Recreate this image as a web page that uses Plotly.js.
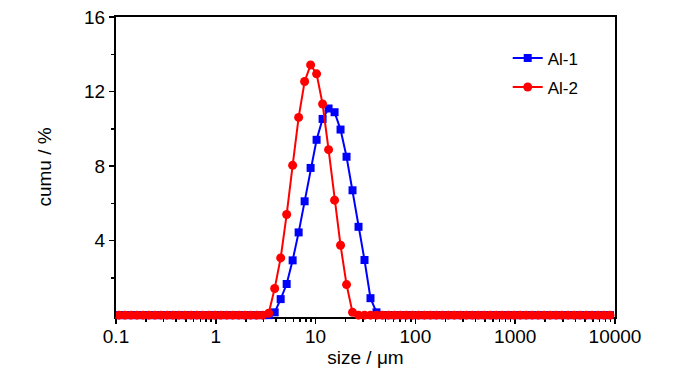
<!DOCTYPE html>
<html>
<head>
<meta charset="utf-8">
<script src="https://cdn.plot.ly/plotly-3.0.1.min.js"></script>
<style>html,body{margin:0;padding:0;background:#fff;}#chart{width:700px;height:374px;}</style>
</head>
<body>
<div id="chart"></div>
<script>
// particle size classes (µm)
var sizes = [
  0.1072, 0.1230, 0.1413, 0.1622, 0.1862, 0.2138, 0.2455, 0.2818, 0.3236, 0.3715,
  0.4266, 0.4898, 0.5623, 0.6457, 0.7413, 0.8511, 0.9772, 1.122, 1.288, 1.479,
  1.698, 1.950, 2.239, 2.570, 2.951, 3.388, 3.890, 4.467, 5.129, 5.888,
  6.761, 7.762, 8.913, 10.23, 11.75, 13.49, 15.49, 17.78, 20.42, 23.44,
  26.92, 30.90, 35.48, 40.74, 46.77, 53.70, 61.66, 70.79, 81.28, 93.33,
  107.2, 123.0, 141.3, 162.2, 186.2, 213.8, 245.5, 281.8, 323.6, 371.5,
  426.6, 489.8, 562.3, 645.7, 741.3, 851.1, 977.2, 1122, 1288, 1479,
  1698, 1950, 2239, 2570, 2951, 3388, 3890, 4467, 5129, 5888,
  6761, 7762, 8913
];
var al1 = [
  0, 0, 0, 0, 0, 0, 0, 0, 0, 0,
  0, 0, 0, 0, 0, 0, 0, 0, 0, 0,
  0, 0, 0, 0, 0, 0, 0.15, 0.86, 1.67, 2.94,
  4.44, 6.11, 7.90, 9.41, 10.53, 11.09, 10.89, 9.96, 8.50, 6.70,
  4.74, 2.96, 0.91, 0.15, 0, 0, 0, 0, 0, 0,
  0, 0, 0, 0, 0, 0, 0, 0, 0, 0,
  0, 0, 0, 0, 0, 0, 0, 0, 0, 0,
  0, 0, 0, 0, 0, 0, 0, 0, 0, 0,
  0, 0, 0
];
var al2 = [
  0, 0, 0, 0, 0, 0, 0, 0, 0, 0,
  0, 0, 0, 0, 0, 0, 0, 0, 0, 0,
  0, 0, 0, 0, 0, 0.1, 1.43, 3.07, 5.40, 8.04,
  10.61, 12.54, 13.43, 12.95, 11.33, 8.88, 6.17, 3.75, 1.64, 0.15,
  0, 0, 0, 0, 0, 0, 0, 0, 0, 0,
  0, 0, 0, 0, 0, 0, 0, 0, 0, 0,
  0, 0, 0, 0, 0, 0, 0, 0, 0, 0,
  0, 0, 0, 0, 0, 0, 0, 0, 0, 0,
  0, 0, 0
];
var seriesNames = ['Al-1', 'Al-2'];
var xTickVals = [0.1, 1, 10, 100, 1000, 10000];
var xTickText = ['0.1', '1', '10', '100', '1000', '10000'];
var yTickVals = [4, 8, 12, 16];
var yMinorVals = [2, 6, 10, 14];

var FONT = 'Liberation Sans, Arial, sans-serif';

var traces = [
  {
    x: sizes, y: al1, name: seriesNames[0], type: 'scatter', mode: 'lines+markers',
    legendgroup: 'a', cliponaxis: false,
    line: {color: '#0000ff', width: 2},
    marker: {symbol: 'square', size: 8, color: '#0000ff'}
  },
  {
    x: sizes, y: al2, name: seriesNames[1], type: 'scatter', mode: 'lines+markers',
    legendgroup: 'b', cliponaxis: false,
    line: {color: '#ff0000', width: 2},
    marker: {symbol: 'circle', size: 9, color: '#ff0000'}
  }
];

var layout = {
  width: 700, height: 374,
  margin: {l: 116, r: 85, t: 17, b: 57},
  paper_bgcolor: '#ffffff', plot_bgcolor: '#ffffff',
  font: {family: FONT, color: '#000000', size: 19},
  showlegend: true,
  legend: {
    x: 0.785, y: 0.922, xanchor: 'left', yanchor: 'top',
    bgcolor: 'rgba(0,0,0,0)', borderwidth: 0,
    font: {family: FONT, size: 17, color: '#000'},
    traceorder: 'grouped', tracegroupgap: 4
  },
  xaxis: {
    type: 'log', range: [-1, 4],
    tickmode: 'array', tickvals: xTickVals, ticktext: xTickText,
    ticks: 'outside', ticklen: 5, tickwidth: 1.5, tickcolor: '#000',
    showline: true, linecolor: '#000', linewidth: 2, mirror: true,
    showgrid: false, zeroline: false, layer: 'below traces',
    ticklabelstandoff: -4,
    tickfont: {family: FONT, size: 19, color: '#000'},
    minor: {ticks: 'outside', ticklen: 3, tickwidth: 1.5, tickcolor: '#000', dtick: 'D1', showgrid: false},
    title: {text: 'size / \u03bcm', font: {family: FONT, size: 19, color: '#000'}, standoff: 2}
  },
  yaxis: {
    range: [-0.1, 16],
    tickmode: 'array', tickvals: yTickVals,
    ticks: 'outside', ticklen: 5, tickwidth: 1.5, tickcolor: '#000',
    showline: true, linecolor: '#000', linewidth: 2, mirror: true,
    showgrid: false, zeroline: false,
    tickfont: {family: FONT, size: 19, color: '#000'},
    minor: {ticks: 'outside', ticklen: 3, tickwidth: 1.5, tickcolor: '#000', tickmode: 'array', tickvals: yMinorVals, showgrid: false},
    title: {text: 'cumu / %', font: {family: FONT, size: 19, color: '#000'}, standoff: 27}
  }
};

Plotly.newPlot('chart', traces, layout, {staticPlot: true, displayModeBar: false});
</script>
</body>
</html>
